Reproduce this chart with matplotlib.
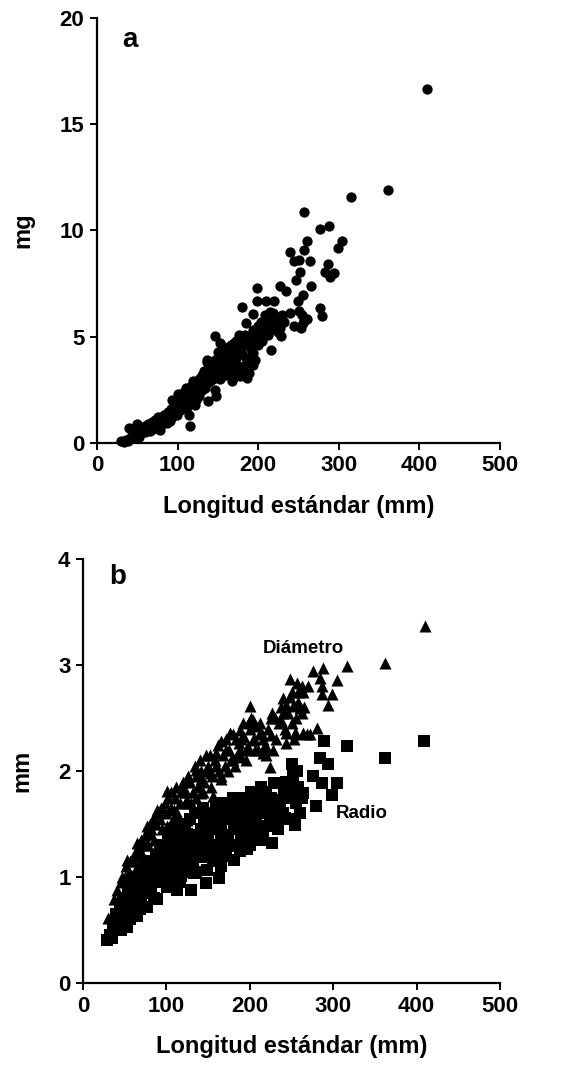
import matplotlib
matplotlib.use("Agg")
import matplotlib.pyplot as plt

plt.rcParams['font.family'] = ['Liberation Sans', 'DejaVu Sans']
plt.rcParams['font.weight'] = 'bold'

# Panel a: weight (mg) vs standard length (mm)
a_x = [30, 33, 36, 38, 40, 40, 42, 44, 46, 48, 50, 50, 52, 54, 55, 57, 58, 60, 60, 62,
       63, 65, 66, 68, 70, 70, 72, 73, 75, 76, 78, 78, 80, 81, 83, 84, 86, 87, 88, 90,
       90, 92, 93, 95, 96, 98, 99, 100, 100, 102, 104, 105, 106, 108, 108, 110, 111, 112, 113, 114,
       115, 116, 117, 118, 119, 120, 121, 122, 123, 124, 125, 126, 127, 128, 130, 130, 132, 133, 134, 135,
       136, 137, 138, 140, 140, 142, 143, 144, 145, 146, 147, 148, 150, 150, 152, 153, 155, 155, 157, 158,
       160, 160, 162, 163, 165, 166, 168, 170, 170, 172, 173, 175, 176, 178, 180, 181, 183, 184, 185, 187,
       188, 190, 191, 193, 195, 196, 198, 200, 200, 202, 204, 205, 207, 208, 210, 212, 214, 215, 218, 220,
       222, 224, 226, 230, 232,
       409, 361, 315, 257, 277, 288, 304, 299, 261, 257, 239, 245, 250, 264, 286, 283, 294, 289, 252, 247,
       265, 227, 234, 198, 255, 249, 198, 210, 219, 180, 215, 239, 251, 254, 277, 279, 261, 256, 253, 244,
       193, 185, 206, 217, 227, 228, 216, 198, 188, 176, 170, 147, 153, 165, 151, 136, 179, 194, 186, 194,
       177, 167, 177, 186, 167, 148, 138, 115, 93]
a_y = [0.1, 0.05, 0.15, 0.1, 0.2, 0.7, 0.3, 0.25, 0.4, 0.35, 0.5, 0.9, 0.3, 0.6, 0.45, 0.7, 0.55, 0.8, 0.5, 0.65,
       0.9, 0.75, 0.55, 1.0, 0.85, 0.65, 1.1, 0.9, 0.75, 1.2, 1.0, 0.6, 1.15, 0.9, 1.3, 1.05, 1.2, 0.95, 1.45, 1.3,
       1.05, 1.6, 1.2, 1.4, 1.8, 1.55, 1.3, 2.3, 1.7, 1.5, 1.9, 2.1, 1.6, 2.4, 1.8, 2.0, 2.6, 1.7, 2.2, 1.3,
       2.45, 1.9, 2.7, 2.1, 2.9, 2.3, 1.8, 2.6, 2.0, 2.8, 2.4, 3.0, 2.2, 2.7, 3.2, 2.5, 2.9, 3.4, 2.6, 3.1,
       3.8, 2.8, 3.3, 3.5, 2.9, 3.2, 3.7, 3.0, 3.4, 2.5, 3.9, 3.2, 3.6, 4.3, 3.0, 3.8, 4.1, 3.3, 3.6, 4.5,
       3.9, 3.2, 4.2, 3.5, 4.0, 4.6, 3.7, 4.3, 3.1, 4.0, 4.8, 4.4, 3.6, 4.9, 4.2, 3.5, 4.6, 5.1, 4.0, 4.7,
       3.3, 5.0, 4.4, 5.3, 4.8, 3.9, 5.2, 5.5, 4.6, 5.0, 5.7, 4.8, 5.3, 6.0, 5.6, 5.1, 5.8, 5.3, 6.1, 5.5,
       5.9, 5.2, 5.6, 6.0, 5.7,
       16.66, 11.89, 11.59, 10.89, 10.07, 10.2, 9.52, 9.18, 9.5, 9.1, 9.0, 8.58, 8.63, 8.58, 8.42, 8.03, 8.0, 7.8, 8.03, 7.65,
       7.4, 7.4, 7.14, 7.31, 6.95, 6.67, 6.67, 6.7, 6.67, 6.4, 6.16, 6.12, 6.2, 6.04, 6.35, 5.96, 5.85, 5.65, 5.41, 5.49,
       6.09, 5.65, 5.41, 5.57, 5.41, 5.02, 4.36, 5.18, 4.86, 5.1, 4.7, 5.02, 4.7, 4.47, 4.24, 3.92, 4.24, 4.24, 3.76, 3.69,
       3.53, 3.37, 3.14, 3.06, 2.9, 2.2, 1.96, 0.78, 2.04]

# Panel b: otolith diameter and radius (mm) vs standard length (mm)
diam_x = [410, 362, 316, 288, 276, 304, 284, 286, 248, 256, 262, 264, 286, 298, 250, 240, 294, 244, 252, 260,
          246, 200, 227, 238, 204, 199, 208, 280, 244, 254, 264, 244, 226, 188, 176, 220, 228, 216, 198, 187,
          165, 172, 160, 148, 135, 125, 119, 101, 89, 77, 65, 53, 47, 41, 37, 30, 180, 224, 153, 165,
          141, 156, 125, 109, 125, 101, 81, 89, 69, 61, 53, 45, 37, 141, 189, 204, 212, 193,
          55, 58, 62, 66, 70, 72, 78, 82, 85, 92, 95, 98, 105, 110, 113, 118, 122, 128, 132, 135,
          138, 142, 145, 150, 155, 158, 163, 168, 170, 175, 178, 183, 185, 190, 195, 200, 205, 210, 215, 218,
          222, 230, 235, 240, 255, 258, 262, 268, 272, 255,
          45, 50, 52, 56, 60, 64, 68, 74, 76, 80, 84, 88, 90, 94, 100, 102, 106, 108, 112, 116,
          120, 124, 126, 130, 134, 136, 140, 144, 148, 152, 154, 160, 162, 166, 172, 174, 180, 182, 188, 192,
          196, 202, 206, 212, 216, 220, 225, 232, 238, 242, 248, 250, 253, 258, 265, 270]
diam_y = [3.37, 3.02, 2.99, 2.97, 2.94, 2.86, 2.88, 2.8, 2.87, 2.83, 2.8, 2.75, 2.73, 2.73, 2.75, 2.69, 2.62, 2.62, 2.61, 2.59,
          2.55, 2.61, 2.55, 2.48, 2.48, 2.46, 2.42, 2.41, 2.36, 2.36, 2.36, 2.26, 2.34, 2.39, 2.36, 2.23, 2.2, 2.17, 2.23, 2.26,
          2.28, 2.2, 2.17, 2.15, 2.01, 1.92, 1.85, 1.81, 1.63, 1.48, 1.32, 1.16, 1.0, 0.88, 0.79, 0.61, 2.1, 2.04, 1.98, 1.92,
          1.79, 1.76, 1.73, 1.63, 1.54, 1.48, 1.41, 1.29, 1.23, 1.04, 0.91, 0.79, 0.66, 1.92, 2.13, 2.29, 2.36, 2.32,
          1.05, 0.95, 1.2, 1.1, 1.35, 1.2, 1.3, 1.45, 1.35, 1.55, 1.45, 1.7, 1.65, 1.75, 1.6, 1.8, 1.7, 1.9, 1.8, 1.95,
          1.85, 2.0, 1.9, 2.05, 1.95, 2.1, 2.0, 2.15, 2.05, 2.2, 2.1, 2.3, 2.15, 2.3, 2.2, 2.4, 2.3, 2.2, 2.35, 2.25,
          2.4, 2.5, 2.45, 2.55, 2.5, 2.65, 2.55, 2.35, 2.35, 2.35,
          0.95, 1.0, 1.1, 1.15, 1.15, 1.25, 1.3, 1.4, 1.3, 1.5, 1.55, 1.5, 1.6, 1.65, 1.6, 1.75, 1.8, 1.55, 1.85, 1.7,
          1.9, 1.8, 1.95, 1.7, 2.05, 1.75, 2.1, 1.8, 2.0, 2.15, 1.85, 2.05, 2.25, 1.95, 2.3, 2.0, 2.35, 2.05, 2.2, 2.45,
          2.1, 2.5, 2.2, 2.45, 2.3, 2.15, 2.5, 2.3, 2.6, 2.4, 2.7, 2.45, 2.3, 2.75, 2.6, 2.8]

radio_x = [409, 362, 316, 289, 284, 294, 276, 286, 304, 299, 279, 250, 252, 258, 264, 229, 241, 242, 254, 227,
           213, 201, 189, 181, 173, 161, 149, 141, 125, 113, 101, 89, 77, 61, 49, 41, 29, 35, 129, 147,
           163, 113, 101, 89, 77, 65, 53, 181, 197, 213, 189, 165, 149, 133, 117, 141, 157, 173, 205, 221,
           233, 217, 197, 181, 165, 149, 133, 121, 109, 93, 81, 69, 57, 45, 93, 109, 125, 145, 165, 189,
           207, 181, 201, 229, 233,
           38, 42, 45, 50, 55, 58, 62, 65, 70, 72, 75, 80, 84, 86, 90, 95, 96, 100, 104, 106,
           110, 115, 118, 120, 126, 130, 135, 138, 142, 146, 150, 152, 155, 158, 160, 166, 170, 172, 176, 178,
           184, 186, 192, 194, 198, 202, 208, 210, 214, 218, 222, 236, 245, 250, 255, 260,
           32, 36, 40, 44, 46, 48, 52, 54, 56, 60, 64, 66, 68, 74, 78, 82, 85, 88, 92, 94,
           98, 102, 104, 108, 112, 114, 116, 122, 124, 128, 132, 134, 136, 140, 144, 148, 154, 156, 162, 164,
           168, 174, 180, 182, 188, 190, 196, 200, 204, 206, 212, 216, 220, 224, 226, 230, 234, 240, 244, 248,
           252, 256, 262]
radio_y = [2.28, 2.12, 2.24, 2.28, 2.12, 2.07, 1.95, 1.89, 1.89, 1.77, 1.67, 2.07, 1.95, 1.85, 1.79, 1.89, 1.79, 1.56, 1.49, 1.32,
           1.85, 1.79, 1.73, 1.67, 1.6, 1.67, 1.51, 1.45, 1.41, 1.26, 1.16, 1.04, 0.91, 0.82, 0.69, 0.57, 0.41, 0.42, 0.88, 0.94,
           0.99, 0.88, 0.91, 0.79, 0.72, 0.63, 0.53, 1.16, 1.26, 1.35, 1.35, 1.1, 1.07, 1.04, 1.01, 1.19, 1.26, 1.35, 1.51, 1.67,
           1.73, 1.48, 1.6, 1.48, 1.41, 1.35, 1.29, 1.16, 1.07, 1.0, 0.85, 0.79, 0.69, 0.57, 1.23, 1.35, 1.23, 1.54, 1.54, 1.54,
           1.67, 1.29, 1.41, 1.48, 1.6,
           0.5, 0.6, 0.5, 0.7, 0.65, 0.8, 0.75, 0.9, 0.85, 0.95, 1.0, 0.95, 1.05, 1.15, 1.1, 1.05, 1.2, 1.25, 1.15, 1.3,
           1.2, 1.3, 1.4, 1.25, 1.35, 1.2, 1.4, 1.3, 1.45, 1.25, 1.4, 1.6, 1.3, 1.5, 1.65, 1.45, 1.6, 1.25, 1.55, 1.7,
           1.45, 1.6, 1.75, 1.5, 1.65, 1.8, 1.55, 1.75, 1.85, 1.6, 1.7, 1.65, 1.75, 1.85, 1.7, 1.6,
           0.45, 0.55, 0.65, 0.75, 0.6, 0.8, 0.75, 0.9, 0.6, 0.95, 0.85, 1.0, 0.7, 1.1, 0.85, 1.15, 0.8, 1.2, 0.95, 1.3,
           1.0, 1.35, 0.95, 1.45, 1.1, 1.5, 0.95, 1.5, 1.05, 1.55, 1.15, 1.6, 1.05, 1.3, 1.65, 1.2, 1.45, 1.15, 1.3, 1.7,
           1.2, 1.4, 1.75, 1.3, 1.25, 1.65, 1.4, 1.3, 1.7, 1.45, 1.6, 1.4, 1.8, 1.5, 1.75, 1.55, 1.45, 1.6, 1.9, 1.55,
           1.8, 2.0, 1.75]

x_ticks = [0, 100, 200, 300, 400, 500]
a_yticks = [0, 5, 10, 15, 20]
b_yticks = [0, 1, 2, 3, 4]

fig = plt.figure(figsize=(5.67, 10.79), dpi=100)
ax1 = fig.add_axes([97/567, 1-443/1079, 403/567, 425/1079])
ax2 = fig.add_axes([83/567, 1-983/1079, 417/567, 424/1079])

fs_tick = 16
fs_label = 17

for ax in (ax1, ax2):
    for s in ('top', 'right'):
        ax.spines[s].set_visible(False)
    for s in ('left', 'bottom'):
        ax.spines[s].set_linewidth(1.6)
    ax.tick_params(direction='out', length=5, width=1.4, labelsize=fs_tick, pad=4)
    ax.set_xlim(0, 500)
    ax.set_xticks(x_ticks)
    for lab in ax.get_xticklabels() + ax.get_yticklabels():
        lab.set_fontweight('bold')

ax1.scatter(a_x, a_y, s=55, c='black', marker='o', linewidths=0, zorder=3, clip_on=False)
ax1.set_ylim(0, 20)
ax1.set_yticks(a_yticks)
ax1.set_ylabel('mg', fontsize=fs_label, fontweight='bold', labelpad=18)
ax1.set_xlabel('Longitud estándar (mm)', fontsize=fs_label, fontweight='bold', labelpad=13)
ax1.text(0.082, 0.948, 'a', transform=ax1.transAxes, fontsize=20, fontweight='bold',
         ha='center', va='center')

ax2.scatter(diam_x, diam_y, s=75, c='black', marker='^', linewidths=0, zorder=3)
ax2.scatter(radio_x, radio_y, s=65, c='black', marker='s', linewidths=0, zorder=4)
ax2.set_ylim(0, 4)
ax2.set_yticks(b_yticks)
ax2.set_ylabel('mm', fontsize=fs_label, fontweight='bold', labelpad=18)
ax2.set_xlabel('Longitud estándar (mm)', fontsize=fs_label, fontweight='bold', labelpad=13)
ax2.text(0.084, 0.957, 'b', transform=ax2.transAxes, fontsize=20, fontweight='bold',
         ha='center', va='center')
ax2.text(264, 3.16, 'Diámetro', fontsize=13.5, fontweight='bold', ha='center', va='center')
ax2.text(334, 1.60, 'Radio', fontsize=13.5, fontweight='bold', ha='center', va='center')

fig.savefig('out.png', dpi=100, facecolor='white')
